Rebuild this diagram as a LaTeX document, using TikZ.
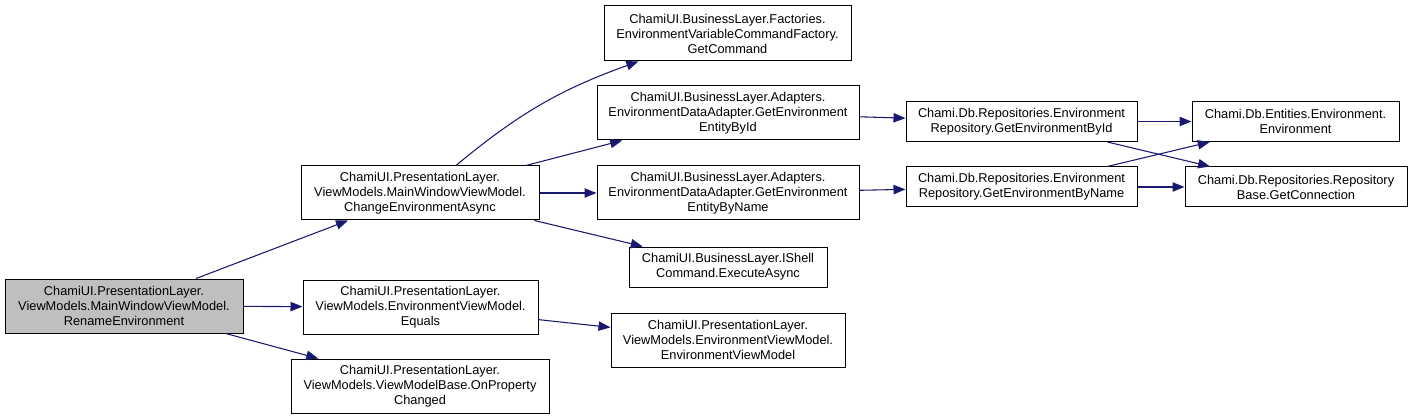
\documentclass[tikz,border=0pt]{standalone}
\usepackage{fontspec}
\setmainfont{Liberation Sans}
\usetikzlibrary{arrows.meta}
\definecolor{edgeblue}{HTML}{191970}
\definecolor{rootgray}{HTML}{BFBFBF}

\begin{document}
\begin{tikzpicture}[
    x=0.75pt, y=-0.75pt,
    func/.style={draw=black, line width=0.75pt, fill=white, inner sep=0pt,
        align=center, font=\fontsize{9.6}{11.25}\selectfont},
    sz/.style 2 args={minimum width=#1*0.75pt, minimum height=#2*0.75pt},
    call/.style={draw=edgeblue, line width=0.8pt,
        -{Triangle[length=9pt, width=7pt]}}
]
    \useasboundingbox (0,0) rectangle (1412,420);
    \node[func, sz={238}{54}, fill=rootgray] (rename) at (124,306)
        {ChamiUI.PresentationLayer.\\ViewModels.MainWindowViewModel.\\RenameEnvironment};
    \node[func, sz={238}{54}] (change) at (420,193)
        {ChamiUI.PresentationLayer.\\ViewModels.MainWindowViewModel.\\ChangeEnvironmentAsync};
    \node[func, sz={235}{54}] (equals) at (420.5,307)
        {ChamiUI.PresentationLayer.\\ViewModels.EnvironmentViewModel.\\Equals};
    \node[func, sz={258}{54}] (propchanged) at (420,386)
        {ChamiUI.PresentationLayer.\\ViewModels.ViewModelBase.OnProperty\\Changed};
    \node[func, sz={247}{55}] (getcommand) at (727.5,33.5)
        {ChamiUI.BusinessLayer.Factories.\\EnvironmentVariableCommandFactory.\\GetCommand};
    \node[func, sz={262}{54}] (entitybyid) at (728,113)
        {ChamiUI.BusinessLayer.Adapters.\\EnvironmentDataAdapter.GetEnvironment\\EntityById};
    \node[func, sz={262}{54}] (entitybyname) at (728,193)
        {ChamiUI.BusinessLayer.Adapters.\\EnvironmentDataAdapter.GetEnvironment\\EntityByName};
    \node[func, sz={198}{40}] (execute) at (728,267)
        {ChamiUI.BusinessLayer.IShell\\Command.ExecuteAsync};
    \node[func, sz={234}{54}] (envviewmodel) at (728,340)
        {ChamiUI.PresentationLayer.\\ViewModels.EnvironmentViewModel.\\EnvironmentViewModel};
    \node[func, sz={231}{40}] (repobyid) at (1021.5,121.5)
        {Chami.Db.Repositories.Environment\\Repository.GetEnvironmentById};
    \node[func, sz={231}{40}] (repobyname) at (1021.5,187)
        {Chami.Db.Repositories.Environment\\Repository.GetEnvironmentByName};
    \node[func, sz={207}{40}] (environment) at (1295.5,121.5)
        {Chami.Db.Entities.Environment.\\Environment};
    \node[func, sz={222}{40}] (connection) at (1296,187)
        {Chami.Db.Repositories.Repository\\Base.GetConnection};
    \draw[call] (rename) -- (change);
    \draw[call] (rename) -- (equals);
    \draw[call] (rename) -- (propchanged);
    \draw[call] (change) to[bend left=10] (getcommand);
    \draw[call] (change) -- (entitybyid);
    \draw[call] (change) -- (entitybyname);
    \draw[call] (change) -- (execute);
    \draw[call] (equals) -- (envviewmodel);
    \draw[call] (entitybyid) -- (repobyid);
    \draw[call] (entitybyname) -- (repobyname);
    \draw[call] (repobyid) -- (environment);
    \draw[call] (repobyid) -- (connection);
    \draw[call] (repobyname) -- (environment);
    \draw[call] (repobyname) -- (connection);
\end{tikzpicture}
\end{document}
